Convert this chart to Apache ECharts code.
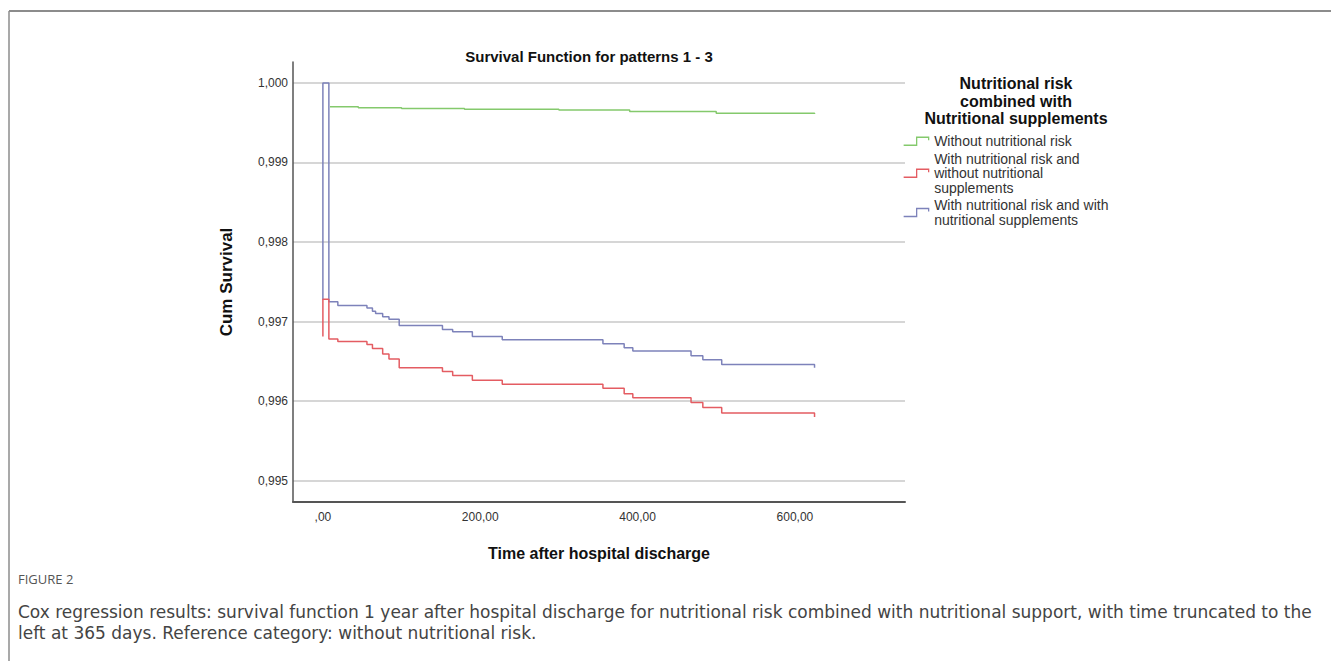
<!DOCTYPE html>
<html>
<head>
<meta charset="utf-8">
<title>Survival Function for patterns 1 - 3</title>
<script src="https://cdn.jsdelivr.net/npm/echarts@6/dist/echarts.min.js"></script>
<style>
  html, body { margin: 0; padding: 0; background: #fff; }
  #chart { width: 1331px; height: 661px; }
</style>
</head>
<body>
<div id="chart"></div>
<script>
// series names (legend)
const seriesNames = [
    'Without nutritional risk',
    'With nutritional risk and\nwithout nutritional\nsupplements',
    'With nutritional risk and with\nnutritional supplements',
];

// step points: time at which the curve changes, and the new value
const timeGreen = [9, 45, 100, 180, 300, 390, 500, 625];
const survGreen = [0.99970, 0.99969, 0.99968, 0.99967, 0.99966, 0.99964, 0.99962, 0.99961];

const timeRed = [0, 0, 7.6, 19, 56, 63, 76, 84, 97, 152, 165, 190, 228, 356, 383, 394, 468, 483, 507, 625];
const survRed = [0.99681, 0.99728, 0.99678, 0.99675, 0.99671, 0.99666, 0.99659, 0.99653, 0.99642, 0.99637,
    0.99632, 0.99626, 0.99621, 0.99616, 0.99609, 0.99604, 0.99598, 0.99592, 0.99585, 0.99580];

const timeBlue = [0, 0, 7.6, 19, 56, 63, 67, 76, 84, 97, 152, 165, 190, 228, 356, 383, 394, 468, 483, 507, 625];
const survBlue = [0.99727, 1.00000, 0.99725, 0.99720, 0.99717, 0.99713, 0.99710, 0.99706, 0.99703, 0.99695,
    0.99690, 0.99687, 0.99681, 0.99677, 0.99672, 0.99667, 0.99663, 0.99657, 0.99652, 0.99646, 0.99642];

const xTicks = [0, 200, 400, 600];
const yTicks = [0.995, 0.996, 0.997, 0.998, 0.999, 1.0];

const colors = ['#84c96c', '#e45c62', '#7d82ba'];
const legendIcon = 'path://M0,8 L13,8 L13,0 L25,0 L25,3';
const font = '"Liberation Sans", Arial, sans-serif';

function zip(xs, ys) {
    return xs.map((x, i) => [x, ys[i]]);
}

function initChart() {
    const el = document.getElementById('chart');
    const myChart = echarts.init(el, null, { renderer: 'svg' });

    const option = {
        animation: false,
        title: [
            {
                text: 'Survival Function for patterns 1 - 3',
                left: 584,
                top: 44,
                textAlign: 'center',
                textStyle: { fontFamily: font, fontSize: 15, fontWeight: 'bold', color: '#111' },
            },
            {
                text: 'Nutritional risk\ncombined with\nNutritional supplements',
                left: 1011,
                top: 70,
                textAlign: 'center',
                textStyle: { fontFamily: font, fontSize: 16, fontWeight: 'bold', color: '#111', lineHeight: 17.5 },
            },
        ],
        legend: {
            orient: 'vertical',
            left: 903,
            top: 134,
            padding: 0,
            itemGap: 3,
            itemWidth: 26,
            itemHeight: 8,
            selectedMode: false,
            textStyle: { fontFamily: font, fontSize: 14, lineHeight: 14.5, color: '#333' },
            data: seriesNames.map((name, i) => ({
                name: name,
                icon: legendIcon,
                itemStyle: { color: 'rgba(0,0,0,0)', borderColor: colors[i], borderWidth: 1.3 },
            })),
        },
        grid: {
            left: 293,
            right: 426,
            top: 62,
            bottom: 159,
        },
        xAxis: {
            type: 'value',
            min: -38,
            max: 740,
            name: 'Time after hospital discharge',
            nameLocation: 'middle',
            nameGap: 43,
            nameTextStyle: { fontFamily: font, fontSize: 16, fontWeight: 'bold', color: '#111' },
            axisLine: { show: true, onZero: false, lineStyle: { color: '#555', width: 2 } },
            axisTick: { show: false, customValues: xTicks },
            splitLine: { show: false },
            axisLabel: {
                customValues: xTicks,
                margin: 9,
                fontFamily: font,
                fontSize: 12,
                color: '#333',
                formatter: (v) => (v === 0 ? ',00' : v.toFixed(2).replace('.', ',')),
            },
        },
        yAxis: {
            type: 'value',
            min: 0.99473,
            max: 1.000264,
            name: 'Cum Survival',
            nameLocation: 'middle',
            nameGap: 58,
            nameTextStyle: { fontFamily: font, fontSize: 17, fontWeight: 'bold', color: '#111' },
            axisLine: { show: true, onZero: false, lineStyle: { color: '#555', width: 1.5 } },
            axisTick: { show: false, customValues: yTicks },
            splitLine: { show: true, lineStyle: { color: '#c9c9c9', width: 1.5 } },
            axisLabel: {
                customValues: yTicks,
                margin: 5,
                fontFamily: font,
                fontSize: 12,
                color: '#333',
                formatter: (v) => v.toFixed(3).replace('.', ','),
            },
        },
        series: [
            { name: seriesNames[0], data: zip(timeGreen, survGreen), color: colors[0] },
            { name: seriesNames[2], data: zip(timeBlue, survBlue), color: colors[2] },
            { name: seriesNames[1], data: zip(timeRed, survRed), color: colors[1] },
        ].map((s) => ({
            type: 'line',
            step: 'end',
            symbol: 'none',
            name: s.name,
            data: s.data,
            itemStyle: { color: s.color },
            lineStyle: { width: 1.5, color: s.color },
        })),
        graphic: [
            // figure frame
            { type: 'line', shape: { x1: 9, y1: 11, x2: 1331, y2: 11 }, style: { stroke: '#8c8c8c', lineWidth: 2 } },
            { type: 'line', shape: { x1: 9, y1: 11, x2: 9, y2: 661 }, style: { stroke: '#8c8c8c', lineWidth: 1.5 } },
            // caption
            {
                type: 'text',
                left: 18,
                top: 572,
                style: { text: 'FIGURE 2', font: '13px "Open Sans", sans-serif', fill: '#555' },
            },
            {
                type: 'text',
                left: 18,
                top: 601,
                style: {
                    text: 'Cox regression results: survival function 1 year after hospital discharge for nutritional risk combined with nutritional support, with time truncated to the\nleft at 365 days. Reference category: without nutritional risk.',
                    font: '17px "DejaVu Sans", sans-serif',
                    lineHeight: 21,
                    fill: '#444',
                },
            },
        ],
    };

    myChart.setOption(option, true);
}

initChart();
</script>
</body>
</html>
